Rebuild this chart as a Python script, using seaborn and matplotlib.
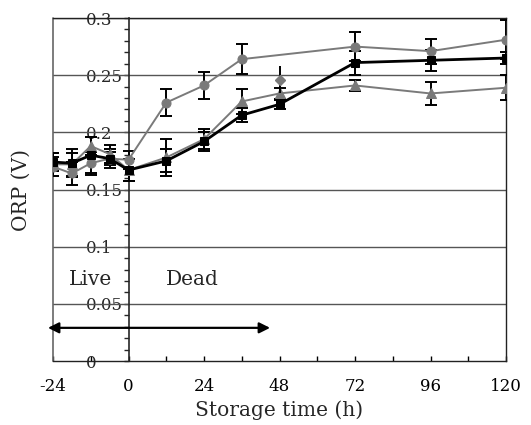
import matplotlib
matplotlib.use("Agg")
import matplotlib.pyplot as plt
from matplotlib.ticker import MultipleLocator, FuncFormatter
import pandas as pd
import seaborn as sns

# Sampling times (h) relative to death
hours = [-24, -18, -12, -6, 0, 12, 24, 36, 48, 72, 96, 120]
hours_circle = [-24, -18, -12, -6, 0, 12, 24, 36, 72, 96, 120]

# ORP (V) means and standard deviations
orp_circle = [0.170, 0.164, 0.173, 0.177, 0.176, 0.226, 0.241, 0.264, 0.275, 0.271, 0.281]
err_circle = [0.008, 0.010, 0.010, 0.008, 0.008, 0.012, 0.012, 0.013, 0.013, 0.011, 0.017]

orp_square = [0.174, 0.173, 0.180, 0.177, 0.167, 0.175, 0.192, 0.215, 0.2245, 0.261, 0.263, 0.265]
err_square = [0.008, 0.012, 0.016, 0.006, 0.010, 0.010, 0.008, 0.006, 0.004, 0.0105, 0.009, 0.005]

orp_triangle = [0.172, 0.172, 0.188, 0.181, 0.167, 0.178, 0.194, 0.227, 0.234, 0.241, 0.234, 0.239]
err_triangle = [0.010, 0.010, 0.008, 0.008, 0.010, 0.016, 0.009, 0.011, 0.005, 0.005, 0.010, 0.011]

extra_hour = [48]
extra_orp = [0.246]
extra_err = [0.012]

x_ticks = [-24, 0, 24, 48, 72, 96, 120]
y_ticks = [0, 0.05, 0.1, 0.15, 0.2, 0.25, 0.3]

sns.set_style("ticks")
plt.rcParams["font.family"] = ["DejaVu Serif"]
plt.rcParams["mathtext.fontset"] = "dejavuserif"
plt.rcParams["axes.unicode_minus"] = False

fig = plt.figure(figsize=(5.31, 4.25), dpi=100)
ax = fig.add_axes([53 / 531, 64 / 425, 453 / 531, 343 / 425])

grey = "#7a7a7a"

# horizontal grid
for yv in y_ticks[1:]:
    ax.axhline(yv, color="#555555", lw=1.0, zorder=1)

series = [
    (hours_circle, orp_circle, err_circle, "o", grey, grey, 1.4, 6.5),
    (hours, orp_triangle, err_triangle, "^", grey, grey, 1.4, 7),
    (hours, orp_square, err_square, "s", "black", "black", 2.0, 5.5),
]
for xs, ys, es, mk, lc, mc, lw, ms in series:
    ax.errorbar(xs, ys, yerr=es, fmt="none", ecolor="black", elinewidth=1.4,
                capsize=4, capthick=1.4, zorder=3)
    df = pd.DataFrame({"h": xs, "orp": ys})
    sns.lineplot(data=df, x="h", y="orp", ax=ax, color=lc, lw=lw, marker=mk,
                 markersize=ms, markerfacecolor=mc, markeredgecolor=mc,
                 sort=False, zorder=4)

ax.errorbar(extra_hour, extra_orp, yerr=extra_err, fmt="D", color=grey,
            ecolor="black", elinewidth=1.4, capsize=0, ms=5.5, zorder=4)

ax.set_xlim(-24, 120)
ax.set_ylim(0, 0.3)

# y axis sits at time zero
ax.spines["left"].set_position(("data", 0))
ax.spines["left"].set_linewidth(1.2)
ax.axvline(-24, color="#666666", lw=1.2, zorder=2, clip_on=False)
for s in ["top", "right", "bottom"]:
    ax.spines[s].set_visible(True)
    ax.spines[s].set_color("#222222")
    ax.spines[s].set_linewidth(1.0)

ax.set_xticks(x_ticks)
ax.xaxis.set_minor_locator(MultipleLocator(12))
ax.tick_params(axis="x", which="both", direction="in", length=3.6, width=1,
               pad=12, labelsize=12, colors="black")

ax.set_yticks(y_ticks)
ax.yaxis.set_minor_locator(MultipleLocator(0.01))
ax.yaxis.set_major_formatter(FuncFormatter(lambda v, p: f"{v:g}"))
ax.tick_params(axis="y", which="both", direction="out", length=3.6, width=1,
               pad=27, labelsize=12)
for lab in ax.get_yticklabels():
    lab.set_horizontalalignment("left")

ax.set_xlabel("Storage time (h)", fontsize=14.5)
ax.xaxis.set_label_coords(0.5, -0.115)
ax.set_ylabel("ORP (V)", fontsize=14.5)
ax.yaxis.set_label_coords(-0.05, 0.5)

ax.text(-12.2, 0.071, "Live", fontsize=14.5, ha="center", va="center")
ax.text(20.2, 0.071, "Dead", fontsize=14.5, ha="center", va="center")
ax.annotate("", xy=(-25.6, 0.029), xytext=(45, 0.029),
            arrowprops=dict(arrowstyle="<|-|>", color="black", lw=1.6,
                            mutation_scale=16, shrinkA=0, shrinkB=0),
            annotation_clip=False)

ax.grid(False)
fig.savefig("out.png", dpi=100)
